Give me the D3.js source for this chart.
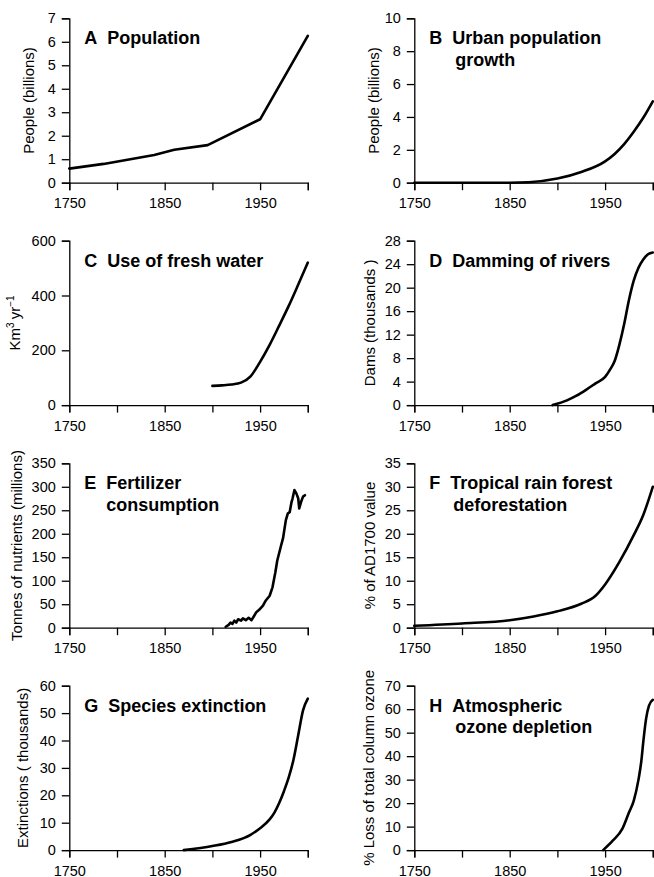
<!DOCTYPE html>
<html>
<head>
<meta charset="utf-8">
<script src="https://cdn.jsdelivr.net/npm/d3@7"></script>
<style>
  body { margin: 0; background: #fff; }
  svg { display: block; font-family: "Liberation Sans", Arial, Helvetica, sans-serif; }
  .axis path, .axis line { stroke: #000; stroke-width: 1.3; }
  .axis text { font-size: 14.5px; fill: #000; }
  .ylab { font-size: 15px; }
  .title { font-size: 18px; font-weight: bold; }
  .series { fill: none; stroke: #000; stroke-width: 2.6; stroke-linejoin: round; stroke-linecap: round; }
</style>
</head>
<body>
<svg id="chart" width="654" height="877"></svg>
<script>
// x axis (shared by all panels)
const xTicks = [1750, 1800, 1850, 1900, 1950, 2000];
const xTickLabels = [1750, 1850, 1950];

// A Population
const popYears  = [1750, 1786, 1839, 1860, 1895, 1950, 2000];
const popValues = [0.6, 0.8, 1.18, 1.4, 1.6, 2.7, 6.25];
// B Urban population growth
const urbanYears  = [1750, 1800, 1850, 1870, 1900, 1925, 1950, 1960, 1970, 1980, 1990, 2000];
const urbanValues = [0, 0, 0, 0.03, 0.25, 0.65, 1.3, 1.75, 2.35, 3.1, 3.95, 4.95];
// C Use of fresh water
const waterYears  = [1900, 1910, 1920, 1930, 1940, 1950, 1960, 1970, 1980, 1990, 2000];
const waterValues = [70, 72, 75, 82, 105, 158, 220, 290, 362, 440, 520];
// D Damming of rivers
const damYears  = [1895, 1910, 1920, 1930, 1940, 1950, 1955, 1960, 1965, 1970, 1975, 1980, 1985, 1990, 1995, 2000];
const damValues = [0, 0.8, 1.6, 2.6, 3.7, 4.8, 6, 7.5, 10.3, 13.8, 17.9, 21.2, 23.4, 24.8, 25.7, 26];
// E Fertilizer consumption
const fertYears  = [1914, 1917, 1919, 1921, 1923, 1925, 1927, 1930, 1932, 1935, 1938, 1941, 1944, 1946, 1949, 1953,
                    1956, 1960, 1963, 1966, 1968, 1972, 1974, 1977, 1979, 1981, 1983, 1984, 1986, 1988, 1990, 1991,
                    1993, 1995, 1997];
const fertValues = [2, 6, 11, 8, 15, 11, 18, 15, 20, 16, 21, 16, 26, 33, 38, 47,
                    58, 68, 86, 118, 143, 175, 190, 229, 243, 246, 268, 275, 293, 286, 275, 254,
                    268, 279, 282];
// F Tropical rain forest deforestation
const forestYears  = [1750, 1800, 1850, 1875, 1900, 1925, 1940, 1950, 1965, 1980, 1990, 2000];
const forestValues = [0.4, 0.9, 1.6, 2.4, 3.5, 5.1, 6.8, 9.2, 14, 19.7, 24, 30];
// G Species extinction
const extYears  = [1870, 1900, 1920, 1940, 1950, 1960, 1965, 1970, 1975, 1980, 1985, 1990, 1995, 2000];
const extValues = [0, 1.5, 3, 5.6, 8, 11.2, 13.7, 17.2, 21.5, 26.5, 33, 42, 51, 55.3];
// H Atmospheric ozone depletion
const ozoneYears  = [1948, 1958, 1968, 1975, 1980, 1985, 1988, 1990, 1993, 1996, 2000];
const ozoneValues = [0, 4, 9, 16, 21, 30, 38, 46, 56, 61.5, 64];

const panels = [
  {letter: "A", title: ["Population"], ylabel: "People (billions)", yMax: 7, yStep: 1, years: popYears, values: popValues, smooth: false},
  {letter: "B", title: ["Urban population", "growth"], ylabel: "People (billions)", yMax: 10, yStep: 2, years: urbanYears, values: urbanValues, smooth: true},
  {letter: "C", title: ["Use of fresh water"], ylabel: "KM3", yMax: 600, yStep: 200, years: waterYears, values: waterValues, smooth: true},
  {letter: "D", title: ["Damming of rivers"], ylabel: "Dams (thousands )", yMax: 28, yStep: 4, years: damYears, values: damValues, smooth: true},
  {letter: "E", title: ["Fertilizer", "consumption"], ylabel: "Tonnes of nutrients (millions)", yMax: 350, yStep: 50, years: fertYears, values: fertValues, smooth: false},
  {letter: "F", title: ["Tropical rain forest", "deforestation"], ylabel: "% of AD1700 value", yMax: 35, yStep: 5, years: forestYears, values: forestValues, smooth: true},
  {letter: "G", title: ["Species extinction"], ylabel: "Extinctions ( thousands)", yMax: 60, yStep: 10, years: extYears, values: extValues, smooth: true},
  {letter: "H", title: ["Atmospheric", "ozone depletion"], ylabel: "% Loss of total column ozone", yMax: 70, yStep: 10, years: ozoneYears, values: ozoneValues, smooth: true}
];

// layout
const colX = [69.3, 414.3];
const plotW = 238.5;
const rowTop = [18.3, 240.7, 463.3, 685.7];
const plotH = 164.4;
const labelOff = [41, 40.6, 54.3, 44.6, 52.3, 44.3, 46.3, 45.6];

const svg = d3.select("#chart");

panels.forEach(function(p, i) {
  const ox = colX[i % 2], oy = rowTop[Math.floor(i / 2)];
  const g = svg.append("g").attr("transform", "translate(" + ox + "," + oy + ")");

  const x = d3.scaleLinear().domain([1750, 2000]).range([0, plotW]);
  const y = d3.scaleLinear().domain([0, p.yMax]).range([plotH, 0]);

  g.append("g")
    .attr("class", "axis")
    .attr("transform", "translate(0," + plotH + ")")
    .call(d3.axisBottom(x).tickValues(xTicks).tickSize(7.5).tickPadding(8)
      .tickFormat(function(d) { return xTickLabels.includes(d) ? d : ""; }));

  g.append("g")
    .attr("class", "axis")
    .call(d3.axisLeft(y).tickValues(d3.range(0, p.yMax + p.yStep / 2, p.yStep))
      .tickSize(7.5).tickPadding(6).tickFormat(d3.format("d")));

  g.selectAll(".axis").attr("font-family", null).attr("font-size", null);

  // y label
  const lab = g.append("text")
    .attr("class", "ylab")
    .attr("text-anchor", "middle")
    .attr("transform", "translate(" + (-labelOff[i]) + "," + (plotH / 2) + ") rotate(-90)")
    .attr("dy", "0.35em");
  if (p.ylabel === "KM3") {
    lab.append("tspan").text("Km");
    lab.append("tspan").attr("font-size", 10).attr("dy", -6).text("3");
    lab.append("tspan").attr("dy", 6).text("\u2009yr");
    lab.append("tspan").attr("font-size", 10).attr("dy", -6).text("\u22121");
  } else {
    lab.text(p.ylabel);
  }

  // title
  const tx = 15, ty = 26;
  const t = g.append("text").attr("class", "title").attr("x", tx).attr("y", ty);
  t.append("tspan").text(p.letter);
  const lw = t.node().getComputedTextLength();
  const indent = lw + 10;
  t.append("tspan").attr("x", tx + indent).text(p.title[0]);
  if (p.title.length > 1) {
    g.append("text").attr("class", "title")
      .attr("x", tx + indent + (p.letter === "E" ? 0 : 3)).attr("y", ty + 21.5)
      .text(p.title[1]);
  }

  // series
  const pts = p.years.map(function(yr, k) { return [yr, p.values[k]]; });
  const line = d3.line()
    .x(function(d) { return x(d[0]); })
    .y(function(d) { return y(d[1]); })
    .curve(p.smooth ? d3.curveMonotoneX : d3.curveLinear);
  g.append("path").attr("class", "series").attr("d", line(pts));
});
</script>
</body>
</html>
